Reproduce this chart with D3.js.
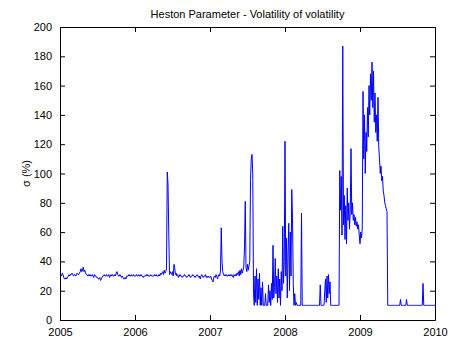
<!DOCTYPE html>
<html>
<head>
<meta charset="utf-8">
<script src="https://cdn.jsdelivr.net/npm/d3@7"></script>
<style>
  html, body { margin: 0; padding: 0; background: #fff; }
  svg { display: block; }
  text { font-family: Arial, "Liberation Sans", sans-serif; fill: #000; }
</style>
</head>
<body>
<svg id="chart" width="450" height="342"></svg>
<script>
// Heston model calibration: vol-of-vol (sigma, %) sampled every 0.01 year
const startYear = 2005;
const sampleStep = 0.01;

const vol2005 = [31,31,30,32,31,29,28,28,29,28,29,30,31,30,31,31,32,31,30,31,
                 31,30,31,32,31,31,32,33,35,33,34,36,33,34,32,31,31,30,31,30,
                 31,30,30,31,30,29,31,30,30,29,29,28,28,29,27,28,29,30,30,31,
                 30,30,31,30,30,31,29,30,31,30,31,30,30,31,30,32,33,31,30,30,
                 31,30,29,30,29,28,28,29,28,30,30,30,31,30,30,31,30,30,31,30];

const vol2006 = [30,30,31,30,30,31,30,30,31,30,30,29,30,30,30,31,30,31,30,30,
                 30,31,30,30,30,30,31,30,31,30,30,30,31,30,32,31,32,33,31,34,
                 32,33,35,101,93,60,31,33,32,31,33,30,38,35,31,32,30,31,29,30,
                 31,30,30,29,30,30,31,30,30,29,30,30,31,30,29,30,30,31,30,30,
                 29,30,30,31,30,29,30,28,30,31,30,29,30,30,31,29,30,29,30,29];

const vol2007 = [29,30,28,27,26,29,30,29,31,30,28,30,31,30,34,63,40,33,31,30,
                 31,30,31,30,30,31,30,31,30,31,30,29,31,30,31,30,32,31,33,30,
                 34,31,35,32,34,36,50,81,36,33,38,34,37,40,95,110,113,100,18,10,
                 30,12,35,10,28,14,32,10,22,10,26,10,10,10,18,10,10,10,24,12,
                 20,10,25,14,51,15,22,42,18,30,12,35,15,28,10,33,20,64,25,40];

const vol2008 = [122,30,56,15,45,66,20,60,30,89,70,25,10,18,10,12,10,10,10,10,
                 10,10,73,10,10,10,10,10,10,10,10,10,10,10,10,10,10,10,10,10,
                 10,10,10,10,10,10,10,24,10,10,10,10,10,20,28,12,30,15,31,18,
                 26,10,10,10,10,10,10,10,10,10,10,10,10,102,75,98,58,187,65,85,
                 55,78,52,90,68,80,62,75,117,72,80,68,72,65,70,64,67,62,65,58];

const vol2009 = [52,60,56,62,156,110,140,100,128,115,145,125,160,140,168,150,176,145,170,135,
                 155,128,140,122,152,118,110,100,105,95,98,88,85,80,78,76,74,10,10,10,
                 10,10,10,10,10,10,10,10,10,10,10,10,10,10,14,10,10,10,10,10,
                 10,10,14,10,10,10,10,10,10,10,10,10,10,10,10,10,10,10,10,10,
                 10,10,10,10,25,10,10,10,10,10,10,10,10,10,10,10,10,10,10,10];

const vol2010 = [10];

const yearTicks = [2005, 2006, 2007, 2008, 2009, 2010];
const sigmaTicks = [0, 20, 40, 60, 80, 100, 120, 140, 160, 180, 200];

const titleText = "Heston Parameter - Volatility of volatility";
const yLabelText = "σ (%)";

const sigma = [].concat(vol2005, vol2006, vol2007, vol2008, vol2009, vol2010);
const series = sigma.map((v, i) => ({ t: startYear + i * sampleStep, v }));

const margin = { left: 60, right: 15, top: 27, bottom: 22 };
const W = 450, H = 342;
const svg = d3.select("#chart");

const x = d3.scaleLinear().domain([2005, 2010]).range([margin.left, W - margin.right]);
const y = d3.scaleLinear().domain([0, 200]).range([H - margin.bottom, margin.top]);

const plot = svg.append("g");

// plot box
plot.append("rect")
  .attr("x", x(2005)).attr("y", y(200))
  .attr("width", x(2010) - x(2005)).attr("height", y(0) - y(200))
  .attr("fill", "#fff");

// data line
plot.append("clipPath").attr("id", "clip")
  .append("rect")
  .attr("x", x(2005)).attr("y", y(200))
  .attr("width", x(2010) - x(2005)).attr("height", y(0) - y(200));

plot.append("path")
  .datum(series)
  .attr("clip-path", "url(#clip)")
  .attr("fill", "none")
  .attr("stroke", "#0000ff")
  .attr("stroke-width", 1)
  .attr("stroke-linejoin", "miter")
  .attr("d", d3.line().x(d => x(d.t)).y(d => y(d.v)));

// axes with inward ticks (box style)
const tickLen = 5;
const fmtYear = d3.format("d");

const xBottom = svg.append("g")
  .attr("transform", `translate(0,${y(0)})`)
  .call(d3.axisBottom(x).tickValues(yearTicks).tickFormat(fmtYear).tickSizeInner(-tickLen).tickSizeOuter(0).tickPadding(tickLen + 3));
const xTop = svg.append("g")
  .attr("transform", `translate(0,${y(200)})`)
  .call(d3.axisTop(x).tickValues(yearTicks).tickFormat("").tickSizeInner(-tickLen).tickSizeOuter(0));
const yLeft = svg.append("g")
  .attr("transform", `translate(${x(2005)},0)`)
  .call(d3.axisLeft(y).tickValues(sigmaTicks).tickFormat(d3.format("d")).tickSizeInner(-tickLen).tickSizeOuter(0).tickPadding(tickLen + 3));
const yRight = svg.append("g")
  .attr("transform", `translate(${x(2010)},0)`)
  .call(d3.axisRight(y).tickValues(sigmaTicks).tickFormat("").tickSizeInner(-tickLen).tickSizeOuter(0));

[xBottom, xTop, yLeft, yRight].forEach(g => {
  g.selectAll("path.domain").attr("stroke", "#000").attr("stroke-width", 1);
  g.selectAll(".tick line").attr("stroke", "#000");
  g.selectAll("text").style("font-size", "11px").attr("fill", "#000")
    .style("font-family", "Arial, 'Liberation Sans', sans-serif");
});

// title
svg.append("text")
  .attr("x", (x(2005) + x(2010)) / 2)
  .attr("y", 18)
  .attr("text-anchor", "middle")
  .style("font-size", "11px")
  .text(titleText);

// y label
svg.append("text")
  .attr("transform", `translate(30,${(y(0) + y(200)) / 2}) rotate(-90)`)
  .attr("text-anchor", "middle")
  .style("font-size", "11px")
  .text(yLabelText);
</script>
</body>
</html>
